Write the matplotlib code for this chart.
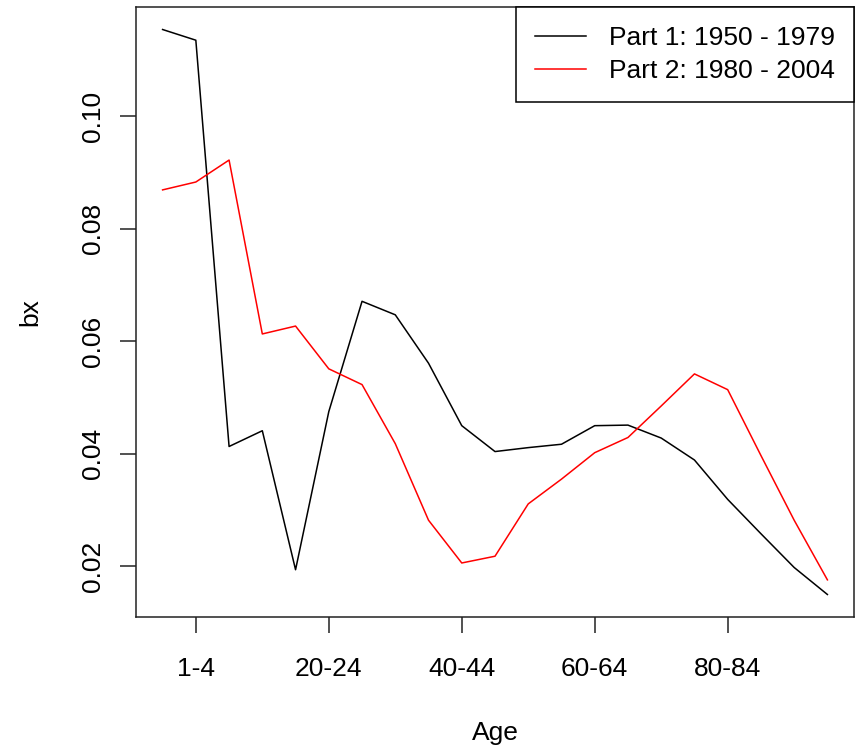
import matplotlib
matplotlib.use("Agg")
import matplotlib.pyplot as plt
import numpy as np

ages = ["0", "1-4", "5-9", "10-14", "15-19", "20-24", "25-29", "30-34", "35-39",
        "40-44", "45-49", "50-54", "55-59", "60-64", "65-69", "70-74", "75-79",
        "80-84", "85-89", "90-94", "95+"]
part1 = [0.1154, 0.1135, 0.0413, 0.0441, 0.0194, 0.0475, 0.0671, 0.0647, 0.0561,
         0.0450, 0.0404, 0.0411, 0.0417, 0.0450, 0.0451, 0.0428, 0.0389, 0.0319,
         0.0258, 0.0198, 0.0150]
part2 = [0.0869, 0.0883, 0.0922, 0.0613, 0.0627, 0.0551, 0.0523, 0.0418, 0.0282,
         0.0206, 0.0218, 0.0311, 0.0355, 0.0402, 0.0429, 0.0485, 0.0542, 0.0514,
         0.0397, 0.0282, 0.0176]
labels = ["Part 1: 1950 - 1979", "Part 2: 1980 - 2004"]
tick_idx = [2, 6, 10, 14, 18]
yticks = [0.02, 0.04, 0.06, 0.08, 0.10]

plt.rcParams['font.family'] = ['Liberation Sans', 'DejaVu Sans']
W, H = 859, 747
fig = plt.figure(figsize=(W/100, H/100), dpi=100)
l, r, t, b = 136, 854, 7, 617
ax = fig.add_axes([l/W, (H-b)/H, (r-l)/W, (b-t)/H])

x = np.arange(1, len(ages)+1)
ax.plot(x, part1, color='black', lw=1.1, label=labels[0])
ax.plot(x, part2, color='red', lw=1.1, label=labels[1])

ax.set_xlim(0.2, 21.8)
ax.set_ylim(0.011, 0.1194)
ax.set_xticks(tick_idx)
ax.set_xticklabels([ages[i-1] for i in tick_idx])
ax.set_yticks(yticks)
ax.set_yticklabels([f"{v:.2f}" for v in yticks], rotation=90, va='center')
ax.tick_params(axis='both', length=11.5, width=1.1, labelsize=19, color='#222222')
ax.tick_params(axis='x', pad=17.5)
ax.tick_params(axis='y', pad=10.5)
for s in ax.spines.values():
    s.set_linewidth(1.1)
    s.set_color('#222222')

ax.set_xlabel("Age", fontsize=19)
ax.set_ylabel("bx", fontsize=19)
ax.xaxis.set_label_coords(0.5, (14-130)/610)
ax.xaxis.label.set_va('center')
ax.yaxis.set_label_coords((30-136)/718, 0.5)
ax.yaxis.label.set_va('center')

leg = ax.legend(loc='upper right', borderaxespad=0, fancybox=False, edgecolor='black',
                framealpha=1, fontsize=19, handlelength=1.93, handletextpad=0.87,
                borderpad=0.73, labelspacing=0.33)
leg.get_frame().set_linewidth(1.1)

fig.savefig("out.png", dpi=100)
